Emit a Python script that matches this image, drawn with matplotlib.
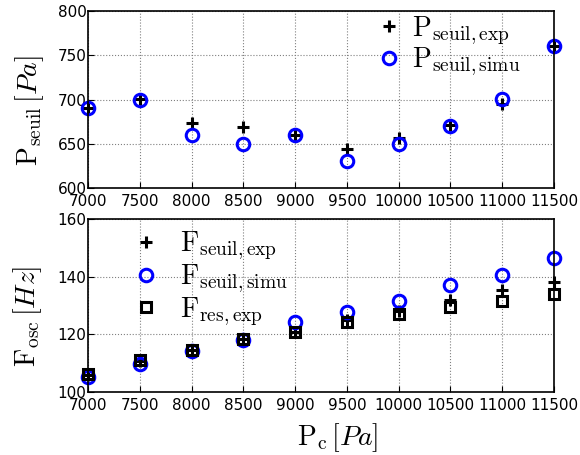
import matplotlib
matplotlib.use("Agg")
import matplotlib.pyplot as plt

plt.rcParams["mathtext.fontset"] = "cm"
plt.rcParams["xtick.direction"] = "in"
plt.rcParams["ytick.direction"] = "in"

# blowing pressure (Pa)
pc = [7000, 7500, 8000, 8500, 9000, 9500, 10000, 10500, 11000, 11500]

# threshold pressure (Pa)
p_seuil_exp = [690, 701, 674, 669, 660, 644, 657, 671, 695, 760]
p_seuil_simu = [690, 700, 660, 650, 660, 630, 650, 670, 701, 760]

# oscillation frequency (Hz)
f_seuil_exp = [106.0, 110.6, 114.7, 118.4, 120.8, 125.1, 128.2, 132.0, 135.5, 138.0]
f_seuil_simu = [105.1, 109.7, 114.3, 117.9, 124.3, 127.6, 131.7, 137.2, 140.5, 146.6]
f_res_exp = [106.2, 111.2, 114.7, 118.4, 120.8, 124.3, 127.1, 129.4, 131.6, 134.1]

fig = plt.figure(figsize=(5.8, 4.55), dpi=100)
ax1 = fig.add_axes([88 / 580, 1 - 188 / 455, 466 / 580, 177 / 455])
ax2 = fig.add_axes([88 / 580, 1 - 392 / 455, 466 / 580, 173 / 455])

ax1.plot(pc, p_seuil_exp, "k+", ms=9, mew=2.2, ls="none",
         label=r"$\mathrm{P_{seuil,exp}}$")
ax1.plot(pc, p_seuil_simu, "o", ms=9, mew=2.2, mfc="none", mec="blue", ls="none",
         label=r"$\mathrm{P_{seuil,simu}}$")
ax1.set_ylim(600, 800)
ax1.set_yticks([600, 650, 700, 750, 800])
ax1.set_ylabel(r"$\mathrm{P_{seuil}}\,[Pa]$", fontsize=20)
ax1.yaxis.set_label_coords(-0.090, 0.435)
ax1.legend(loc="upper left", bbox_to_anchor=(0.592, 1.045), frameon=False,
           fontsize=20, handlelength=1, handletextpad=0.33,
           borderaxespad=0, labelspacing=-0.06)

ax2.plot(pc, f_seuil_exp, "k+", ms=9, mew=2.2, ls="none",
         label=r"$\mathrm{F_{seuil,exp}}$")
ax2.plot(pc, f_seuil_simu, "o", ms=9, mew=2.2, mfc="none", mec="blue", ls="none",
         label=r"$\mathrm{F_{seuil,simu}}$")
ax2.plot(pc, f_res_exp, "s", ms=7.5, mew=2.2, mfc="none", mec="black", ls="none",
         label=r"$\mathrm{F_{res,exp}}$")
ax2.set_ylim(100, 160)
ax2.set_yticks([100, 120, 140, 160])
ax2.set_ylabel(r"$\mathrm{F_{osc}}\,[Hz]$", fontsize=20)
ax2.yaxis.set_label_coords(-0.094, 0.44)
ax2.set_xlabel(r"$\mathrm{P_c}\,[Pa]$", fontsize=20)
ax2.xaxis.set_label_coords(0.536, -0.167)
ax2.legend(loc="upper left", bbox_to_anchor=(0.071, 1.003), frameon=False,
           fontsize=20, handlelength=1, handletextpad=0.72,
           borderaxespad=0, labelspacing=0.0)

for ax in (ax1, ax2):
    ax.set_xlim(7000, 11500)
    ax.set_xticks(pc)
    ax.tick_params(labelsize=11, length=4)
    ax.tick_params(axis="x", pad=4)
    ax.tick_params(axis="y", pad=1)
    ax.grid(True, color="gray", ls=":", lw=0.8)
    for sp in ax.spines.values():
        sp.set_linewidth(1.2)
    for art in ax.lines:
        art.set_clip_on(False)

fig.savefig("out.png", dpi=100)
